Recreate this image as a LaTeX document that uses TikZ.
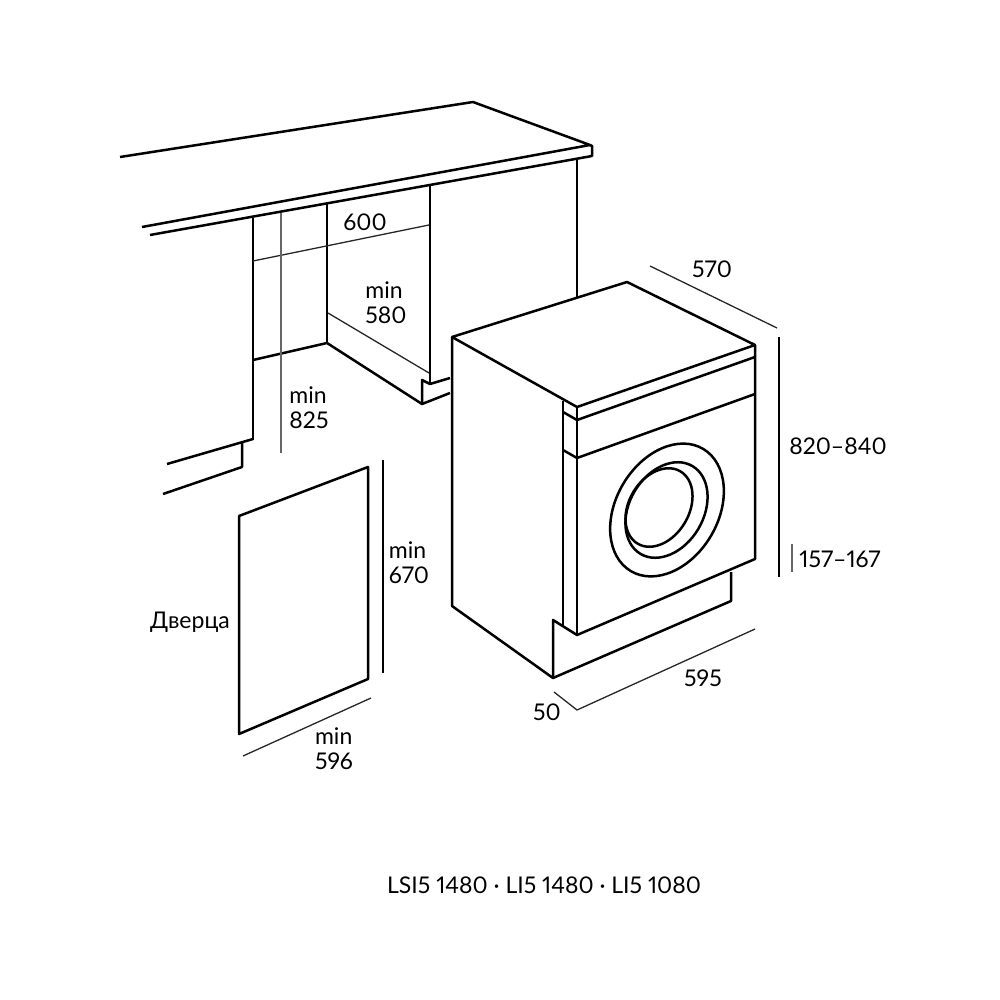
\documentclass[tikz,border=0pt]{standalone}
\usepackage{fontspec}
\setmainfont{Lato}[Numbers=Proportional]
\usetikzlibrary{positioning}
\tikzset{%
  outline/.style={
    line width=1.25pt,
    line join=round,
    black
  },
  thinline/.style={
    line width=0.65pt,
    black!85
  },
  dimline/.style={
    line width=0.65pt,
    black!60
  },
  heightline/.style={
    line width=1pt,
    black
  },
  sizelabel/.style={
    font=\fontsize{11.5}{12.5}\selectfont,
    align=left,
    inner sep=0pt
  },
}
\begin{document}
\begin{tikzpicture}[x=0.5pt, y=-0.5pt]

    \useasboundingbox (0,0) rectangle (1000,1000);

    % countertop
    \draw [outline] (120,157) -- (473,102) -- (590,145) -- (142,227);
    \draw [outline] (590,145) -- (592,146) -- (592,156) -- (150,235);

    % cabinet opening
    \foreach \x/\a/\b in {253/218/440, 327/204/343, 430/186/383, 577/158/297}
    \draw [outline] (\x,\a) -- (\x,\b);
    \draw [outline] (253,360) -- (327,343) -- (422,404) -- (450,393);
    \draw [outline] (422,404) -- (422,380) -- (430,384) -- (450,378);
    \draw [outline] (167,464) -- (253,439);
    \draw [outline] (242,442) -- (242,467) -- (163,494);
    \draw [thinline] (328,313) -- (429,373);
    \draw [thinline] (253,261) -- (429,225);
    \draw [dimline] (281,213) -- (281,453);

    % door
    \draw [outline] (239,516) -- (368,467) -- (368,679) -- (239,734) -- cycle;
    \draw [heightline] (383,460) -- (383,673);
    \draw [thinline] (243,756) -- (371,698);

    % machine body
    \draw [outline] (452,337) -- (627,282) -- (755,345) -- (577,407) -- cycle;
    \draw [outline] (452,337) -- (452,606) -- (553,678) -- (731,601) -- (731,572);
    \draw [outline] (553,678) -- (553,620) -- (577,635) -- (755,559) -- (755,345);
    \draw [outline] (577,407) -- (577,635);
    \draw [outline] (563,401) -- (563,627);
    \draw [outline] (563,412) -- (577,420) -- (755,357);
    \draw [outline] (563,450) -- (577,458) -- (755,394);

    % drum
    \foreach \cx/\cy/\a/\b in {667/510/35.5/25.5, 666.5/510/25.5/18.5, 659/507.5/21/15}
    \draw [outline, rotate around={59.4:(\cx,\cy)}] (\cx,\cy) ellipse [x radius=\a pt, y radius=\b pt];

    % machine dimensions
    \draw [thinline] (650,266) -- (777,328);
    \draw [heightline] (779,337) -- (779,577);
    \draw [heightline, black!60] (792,544) -- (792,572);
    \draw [thinline] (755,629) -- (577,710) -- (554,692);

    % labels
    \node [sizelabel] (width-top) at (365,222) {600};
    \node [sizelabel] (depth-top) at (386,303) {min\\580};
    \node [sizelabel] (height-top) at (309,408) {min\\825};
    \node [sizelabel] (height-door) at (409,563) {min\\670};
    \node [sizelabel] (width-door) at (334,749) {min\\596};
    \node [sizelabel] (door) at (190,622) {Дверца};
    \node [sizelabel] (depth-machine) at (712,269) {570};
    \node [sizelabel] (height-machine) at (838,446) {820–840};
    \node [sizelabel] (height-plinth) at (840,559) {157–167};
    \node [sizelabel] (width-machine) at (703,678) {595};
    \node [sizelabel] (depth-plinth) at (547,712) {50};
    \node [sizelabel] (models) at (544,885) {LSI5 1480 · LI5 1480 · LI5 1080};

\end{tikzpicture}
\end{document}
